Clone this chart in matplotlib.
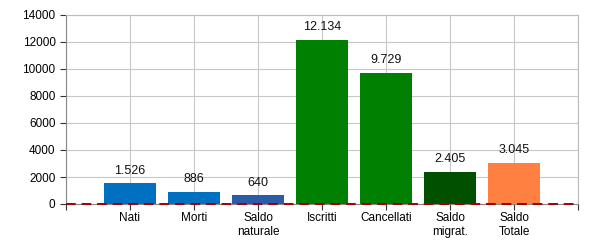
import matplotlib
matplotlib.use("Agg")
import matplotlib.pyplot as plt

# dati del grafico
categorie = ["Nati", "Morti", "Saldo\nnaturale", "Iscritti", "Cancellati", "Saldo\nmigrat.", "Saldo\nTotale"]
valori = [1526, 886, 640, 12134, 9729, 2405, 3045]
etichette = ["1.526", "886", "640", "12.134", "9.729", "2.405", "3.045"]
colori = ["#0070C0", "#0070C0", "#2A5CAA", "#008000", "#008000", "#005000", "#FF8040"]

plt.rcParams['font.family'] = ['Liberation Sans', 'DejaVu Sans']

fig = plt.figure(figsize=(6, 2.5), dpi=100)
ax = fig.add_axes([66/600, 1 - 204/250, 512/600, 189/250])

pos = list(range(1, len(categorie) + 1))
ax.bar(pos, valori, width=0.8, color=colori, zorder=3)

for x, v, t in zip(pos, valori, etichette):
    ax.text(x, v + 500, t, ha="center", va="bottom", fontsize=9, color="#111111", zorder=4)

ax.axhline(0, color="#A00000", linestyle="--", linewidth=1.4, dashes=(5, 3), zorder=5, clip_on=False)

ax.set_xlim(0, 8)
ax.set_ylim(0, 14000)
ax.set_yticks(range(0, 14001, 2000))
ax.set_xticks([0] + pos + [8])
ax.set_xticklabels([""] + categorie + [""])
ax.tick_params(axis="both", labelsize=8.5, length=4, color="#333333", width=0.8)
ax.tick_params(axis="x", pad=2)

ax.grid(True, color="#C8C8C8", linewidth=0.8, zorder=0)
for s in ax.spines.values():
    s.set_color("#BBBBBB")
    s.set_linewidth(0.8)
ax.spines["left"].set_color("#888888")
ax.spines["bottom"].set_color("#888888")

fig.savefig("out.png", dpi=100)
